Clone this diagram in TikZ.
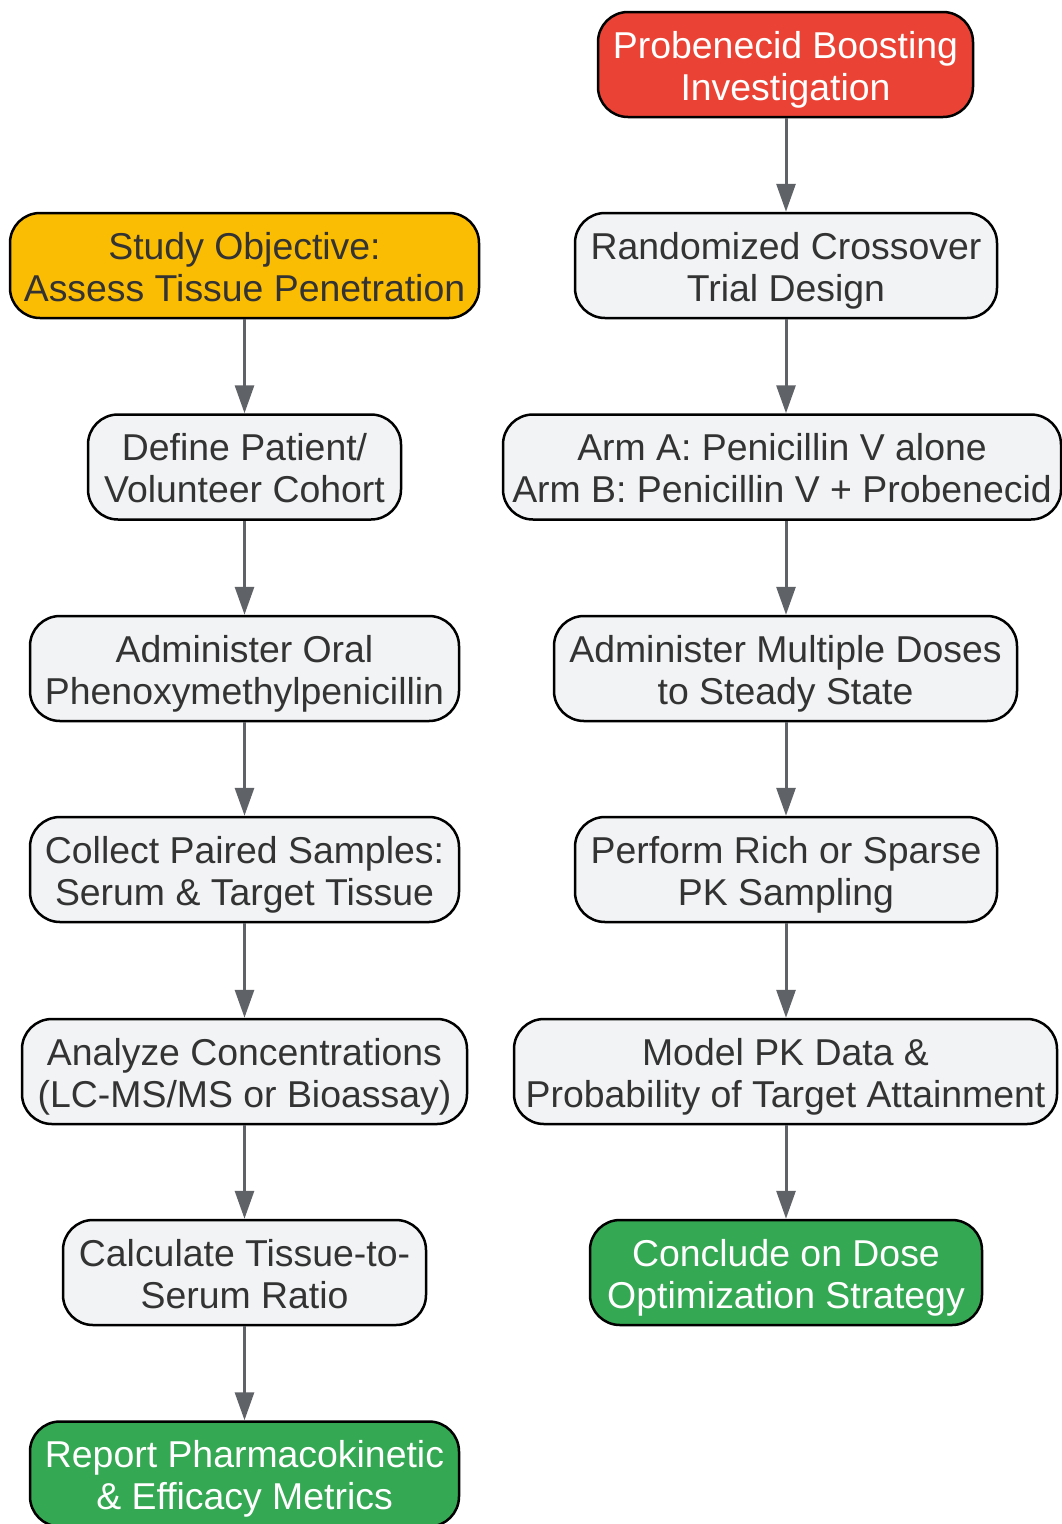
\documentclass[tikz,border=0pt]{standalone}
\usepackage{fontspec}
\setmainfont{Liberation Sans}
\usetikzlibrary{arrows.meta}
\definecolor{redc}{HTML}{EA4335}
\definecolor{yelc}{HTML}{FBBC04}
\definecolor{grnc}{HTML}{34A853}
\definecolor{greyc}{HTML}{F1F3F4}
\definecolor{txtc}{HTML}{333333}
\definecolor{arrc}{HTML}{5F6368}
\tikzset{
  box/.style={draw=black, line width=2.5pt, rounded corners=30pt, fill=greyc, text=txtc,
    minimum height=105pt, inner sep=0pt, align=center, text height=71pt, text depth=0pt,
    font=\fontsize{37.4}{42}\selectfont},
  redbox/.style={box, fill=redc, text=white},
  yelbox/.style={box, fill=yelc, text=txtc},
  grnbox/.style={box, fill=grnc, text=white},
  conn/.style={draw=arrc, line width=3pt, -{Triangle[length=28pt,width=19pt]}, shorten >=0pt}
}
\begin{document}
\begin{tikzpicture}[x=1pt,y=-1pt]
\useasboundingbox (0,0) rectangle (1062,1524);
% right column
\node[redbox, minimum width=375pt] (r1) at (785.5,64.5) {Probenecid Boosting\\Investigation};
\node[box, minimum width=422pt] (r2) at (786,265.5) {Randomized Crossover\\Trial Design};
\node[box, minimum width=558pt] (r3) at (782,467) {Arm A: Penicillin V alone\\Arm B: Penicillin V + Probenecid};
\node[box, minimum width=463pt] (r4) at (785.5,668.5) {Administer Multiple Doses\\to Steady State};
\node[box, minimum width=422pt] (r5) at (786,869.5) {Perform Rich or Sparse\\PK Sampling};
\node[box, minimum width=543pt] (r6) at (785.5,1071.5) {Model PK Data \&\\Probability of Target Attainment};
\node[grnbox, minimum width=392pt] (r7) at (786,1272.5) {Conclude on Dose\\Optimization Strategy};
% left column
\node[yelbox, minimum width=469pt] (l1) at (244.5,265.5) {Study Objective:\\Assess Tissue Penetration};
\node[box, minimum width=313pt] (l2) at (244.5,467) {Define Patient/\\Volunteer Cohort};
\node[box, minimum width=429pt] (l3) at (244.5,668.5) {Administer Oral\\Phenoxymethylpenicillin};
\node[box, minimum width=429pt] (l4) at (244.5,869.5) {Collect Paired Samples:\\Serum \& Target Tissue};
\node[box, minimum width=445pt] (l5) at (244.5,1071.5) {Analyze Concentrations\\(LC-MS/MS or Bioassay)};
\node[box, minimum width=363pt] (l6) at (244.5,1272.5) {Calculate Tissue-to-\\Serum Ratio};
\node[grnbox, minimum width=429pt] (l7) at (244.5,1474) {Report Pharmacokinetic\\\& Efficacy Metrics};
% connectors
\foreach \a/\b in {r1/r2,r2/r3,r3/r4,r4/r5,r5/r6,r6/r7}
  \draw[conn] (\a.south -| r2.center) -- (\b.north -| r2.center);
\foreach \a/\b in {l1/l2,l2/l3,l3/l4,l4/l5,l5/l6,l6/l7}
  \draw[conn] (\a.south -| l1.center) -- (\b.north -| l1.center);
\end{tikzpicture}
\end{document}
